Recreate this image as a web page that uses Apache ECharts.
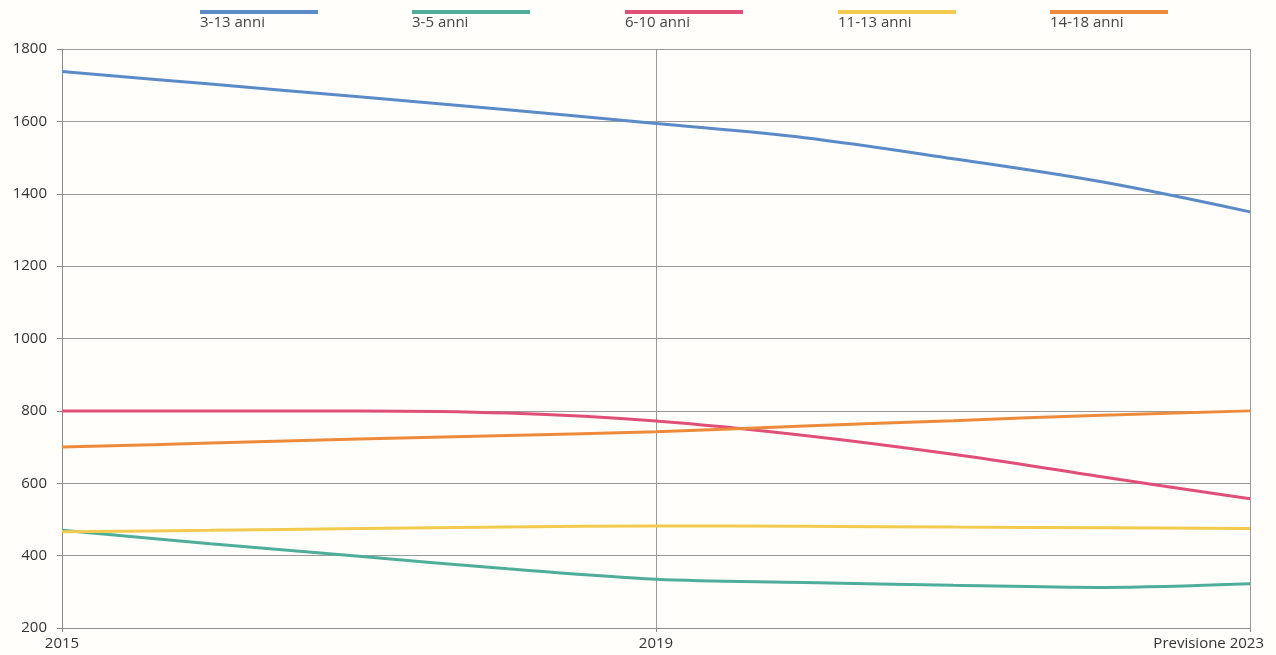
<!DOCTYPE html>
<html>
<head>
<meta charset="utf-8">
<script src="https://cdn.jsdelivr.net/npm/echarts@6/dist/echarts.min.js"></script>
<style>
html,body{margin:0;padding:0;background:#fffefb;}
#c{width:1276px;height:655px;}
</style>
</head>
<body>
<div id="c"></div>
<script>
var years = ['2015','2016','2017','2018','2019','2020','2021','2022','Previsione 2023'];
var seriesNames = ['3-13 anni','3-5 anni','6-10 anni','11-13 anni','14-18 anni'];
var s3_13 = [1738, 1703, 1668, 1632, 1594, 1555, 1497, 1433, 1350];
var s3_5  = [470, 433, 398, 364, 335, 326, 318, 312, 322];
var s6_10 = [800, 800, 800, 794, 772, 732, 680, 618, 557];
var s11_13 = [466, 470, 475, 479, 482, 481, 479, 477, 475];
var s14_18 = [700, 711, 722, 732, 742, 758, 773, 788, 800];
var yTicks = [200, 1800, 200]; // min, max, interval

var colors = ['#5b8bc7', '#4fae9a', '#e04f78', '#f2cb4e', '#ee8b3b'];
var allData = [s3_13, s3_5, s6_10, s11_13, s14_18];
var legendLefts = [200, 412, 625, 838, 1050];

var font = 'Open Sans';
var chart = echarts.init(document.getElementById('c'));

var legends = seriesNames.map(function(n, i){
  return {
    data: [n],
    left: legendLefts[i],
    top: -10,
    padding: 0,
    icon: 'rect',
    itemWidth: 118,
    itemHeight: 4,
    itemGap: 0,
    selectedMode: false,
    formatter: function(name){ return '\n' + name; },
    textStyle: {
      fontFamily: font,
      fontSize: 15,
      lineHeight: 22,
      color: '#444',
      padding: [0, 0, 0, -123]
    }
  };
});

var series = seriesNames.map(function(n, i){
  return {
    name: n,
    type: 'line',
    data: allData[i],
    smooth: 0.35,
    symbol: 'none',
    lineStyle: {width: 3, color: colors[i]},
    itemStyle: {color: colors[i]}
  };
});

chart.setOption({
  backgroundColor: '#fffefb',
  animation: false,
  legend: legends,
  grid: {left: 62, right: 26, top: 49, bottom: 27, containLabel: false},
  xAxis: {
    type: 'category',
    data: years,
    boundaryGap: false,
    axisLine: {lineStyle: {color: '#8a8a8a', width: 1}},
    axisTick: {show: true, interval: 3, length: 4, lineStyle: {color: '#8a8a8a'}},
    axisLabel: {
      interval: 3,
      fontFamily: font,
      fontSize: 15,
      color: '#333',
      margin: 8,
      alignMaxLabel: 'right',
      formatter: function(v, idx){
        return idx === years.length - 1 ? '{last|' + v + '}' : v;
      },
      rich: {
        last: {fontFamily: font, fontSize: 15, color: '#333', padding: [0, -14, 0, 0]}
      }
    },
    splitLine: {show: true, interval: 3, lineStyle: {color: '#9a9a9a', width: 1}}
  },
  yAxis: {
    type: 'value',
    min: yTicks[0],
    max: yTicks[1],
    interval: yTicks[2],
    axisLine: {show: true, lineStyle: {color: '#8a8a8a', width: 1}},
    axisTick: {show: true, length: 5, lineStyle: {color: '#8a8a8a'}},
    axisLabel: {fontFamily: font, fontSize: 15, color: '#333', margin: 15,
      formatter: function(v){ return String(v); }},
    splitLine: {show: true, lineStyle: {color: '#9a9a9a', width: 1}}
  },
  series: series
});
</script>
</body>
</html>
